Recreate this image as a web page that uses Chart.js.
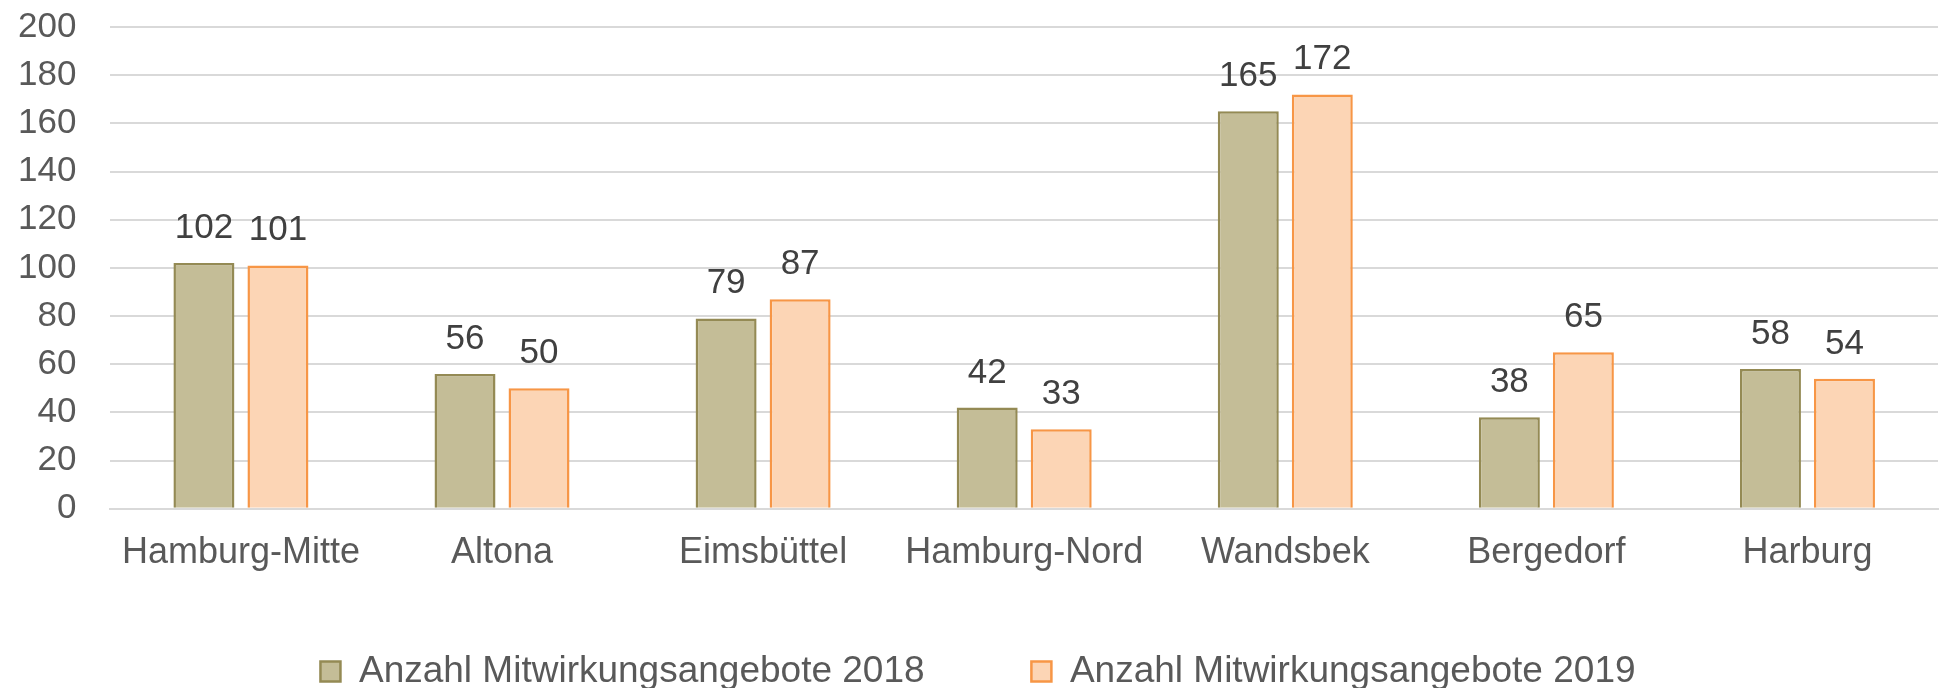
<!DOCTYPE html>
<html>
<head>
<meta charset="utf-8">
<script src="https://cdn.jsdelivr.net/npm/chart.js@4/dist/chart.umd.min.js"></script>
<style>
  html, body { margin: 0; padding: 0; background: #fff; }
  #wrap { width: 1944px; height: 688px; }
</style>
</head>
<body>
<div id="wrap"><canvas id="chart"></canvas></div>
<script>
// Bezirke
var districts = ["Hamburg-Mitte", "Altona", "Eimsbüttel", "Hamburg-Nord", "Wandsbek", "Bergedorf", "Harburg"];
var values2018 = [102, 56, 79, 42, 165, 38, 58];
var values2019 = [101, 50, 87, 33, 172, 65, 54];
var yTicks = [0, 20, 40, 60, 80, 100, 120, 140, 160, 180, 200];

var FONT = "'Liberation Sans', Arial, sans-serif";

// Werte über den Balken
var valueLabels = {
  id: "valueLabels",
  afterDatasetsDraw: function(chart) {
    var ctx = chart.ctx;
    ctx.save();
    ctx.font = "35px " + FONT;
    ctx.fillStyle = "#404040";
    ctx.textAlign = "center";
    ctx.textBaseline = "alphabetic";
    chart.data.datasets.forEach(function(ds, i) {
      var meta = chart.getDatasetMeta(i);
      meta.data.forEach(function(bar, j) {
        ctx.fillText(ds.data[j], bar.x, bar.y - 25);
      });
    });
    ctx.restore();
  }
};

new Chart(document.getElementById("chart"), {
  type: "bar",
  data: {
    labels: districts,
    datasets: [
      {
        label: "Anzahl Mitwirkungsangebote 2018",
        data: values2018,
        backgroundColor: "#C4BD97",
        borderColor: "#948A54",
        borderWidth: 2.5
      }, {
        label: "Anzahl Mitwirkungsangebote 2019",
        data: values2019,
        backgroundColor: "#FCD5B5",
        borderColor: "#F79646",
        borderWidth: 2.5
      }
    ]
  },
  options: {
    responsive: true,
    maintainAspectRatio: false,
    animation: false,
    categoryPercentage: 0.567,
    barPercentage: 0.824,
    layout: { padding: { left: 18, right: 6, top: 27, bottom: -12 } },
    scales: {
      x: {
        grid: { display: false },
        border: { color: "#D9D9D9", width: 2 },
        ticks: { color: "#595959", font: { family: FONT, size: 36 }, padding: 15, maxRotation: 0 },
        afterFit: function(axis) {
          axis.height += 59; // Platz bis zur Legende
        }
      },
      y: {
        min: 0,
        max: 200,
        afterBuildTicks: function(axis) {
          axis.ticks = yTicks.map(function(v) { return { value: v }; });
        },
        grid: { color: "#D9D9D9", lineWidth: 2, drawTicks: true, tickLength: 34, tickColor: "rgba(0,0,0,0)" },
        border: { display: false },
        ticks: { color: "#595959", font: { family: FONT, size: 35 }, padding: 0 }
      }
    },
    plugins: {
      legend: {
        position: "bottom",
        labels: {
          color: "#595959",
          font: { family: FONT, size: 37, lineHeight: 1 },
          boxWidth: 20,
          boxHeight: 20,
          padding: 4,
          generateLabels: function(chart) {
            var items = Chart.defaults.plugins.legend.labels.generateLabels(chart);
            // Abstand zwischen den Einträgen
            items[0].text = items[0].text + "          ";
            return items;
          }
        }
      },
      tooltip: { enabled: false }
    }
  },
  plugins: [valueLabels]
});
</script>
</body>
</html>
